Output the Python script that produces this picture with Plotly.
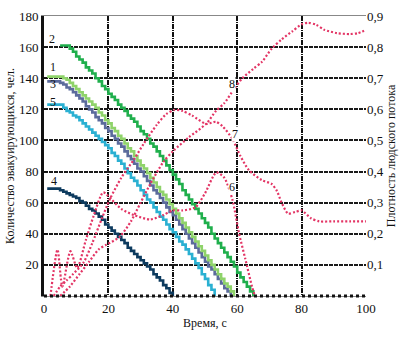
import plotly.graph_objects as go

# ---- evacuation counts (people remaining), one value per second ----
t_curve2 = list(range(5, 66))
n_curve2 = [161, 161, 161, 159, 157, 154, 152, 150, 147, 145, 143, 140, 138, 135, 133, 130,
            128, 126, 123, 121, 119, 116, 114, 112, 109, 106, 104, 101, 98, 96, 93, 90, 87,
            84, 81, 78, 75, 72, 68, 65, 62, 59, 56, 53, 50, 47, 44, 40, 37, 34, 31, 28, 25,
            22, 19, 15, 12, 9, 6, 3, 0]

t_curve1 = list(range(1, 60))
n_curve1 = [141, 141, 141, 141, 141, 140, 139, 137, 135, 133, 131, 129, 127, 125, 123, 121,
            118, 116, 113, 111, 108, 106, 103, 101, 98, 95, 93, 90, 87, 84, 82, 79, 76, 73,
            70, 67, 65, 62, 59, 56, 53, 50, 47, 44, 41, 38, 35, 32, 29, 26, 23, 20, 17, 14,
            11, 8, 6, 3, 0]

t_curve3 = list(range(1, 59))
n_curve3 = [138, 138, 138, 138, 137, 136, 134, 133, 131, 129, 127, 125, 122, 120, 118, 115,
            113, 111, 108, 106, 103, 101, 98, 96, 93, 90, 88, 85, 82, 80, 77, 74, 71, 68, 66,
            63, 60, 57, 54, 52, 49, 46, 43, 40, 37, 34, 31, 28, 25, 22, 19, 17, 14, 11, 8, 5,
            3, 0]

t_curve5 = list(range(1, 54))
n_curve5 = [123, 123, 123, 123, 123, 121, 119, 118, 116, 115, 113, 111, 109, 107, 105, 103,
            101, 99, 97, 95, 92, 90, 87, 85, 82, 79, 76, 74, 71, 68, 65, 62, 60, 57, 54, 51,
            49, 46, 43, 41, 38, 35, 33, 30, 27, 24, 21, 18, 14, 11, 7, 4, 0]

t_curve4 = list(range(1, 41))
n_curve4 = [69, 69, 69, 69, 68, 67, 66, 65, 64, 63, 61, 60, 58, 56, 55, 53, 51, 49, 46, 44,
            42, 40, 38, 36, 34, 31, 29, 27, 25, 23, 21, 19, 17, 14, 12, 10, 7, 5, 2, 0]

# ---- flow density (right axis) ----
t_curve6 = [2, 4.2, 5.7, 8.2, 10.3, 13, 15.5, 18.4, 21, 24, 28, 33, 37, 40, 43, 47, 50,
            53.5, 56, 58.5, 60.6, 62.5, 64.6, 65.5]
d_curve6 = [0, 0.149, 0.03, 0.144, 0.09, 0.18, 0.26, 0.333, 0.31, 0.28, 0.26, 0.246, 0.26,
            0.275, 0.275, 0.285, 0.33, 0.397, 0.38, 0.31, 0.2, 0.12, 0.03, 0]

t_curve7 = [3, 5, 7, 9, 12.3, 15, 18, 20.4, 24, 28, 31, 35, 38, 40.5, 43, 46, 50.4, 53.4,
            55.5, 58.5, 61, 63.6, 67.7, 70.7, 72.3, 73.8, 75.8, 78, 80, 82.9, 85.5, 90, 95, 100]
d_curve7 = [0, 0.03, 0.05, 0.07, 0.108, 0.17, 0.25, 0.31, 0.38, 0.44, 0.49, 0.55, 0.585,
            0.598, 0.595, 0.58, 0.553, 0.56, 0.545, 0.505, 0.45, 0.405, 0.372, 0.36, 0.338,
            0.30, 0.265, 0.27, 0.275, 0.25, 0.24, 0.24, 0.24, 0.24]

t_curve8 = [5, 8, 11, 14, 17, 19.4, 23.5, 27, 30, 33, 37, 40.2, 45, 50.5, 53.4, 56, 59, 61.6,
            65, 67.7, 70.7, 73.8, 77, 80, 82, 84.5, 87, 91, 95, 97.5, 100]
d_curve8 = [0, 0.03, 0.07, 0.11, 0.15, 0.165, 0.19, 0.24, 0.30, 0.36, 0.43, 0.467, 0.51,
            0.555, 0.595, 0.62, 0.665, 0.70, 0.73, 0.753, 0.795, 0.825, 0.85, 0.873, 0.878,
            0.872, 0.856, 0.845, 0.842, 0.845, 0.855]

x_ticks = [0, 20, 40, 60, 80, 100]
left_ticks = [20, 40, 60, 80, 100, 120, 140, 160, 180]
right_ticks = [0.1, 0.2, 0.3, 0.4, 0.5, 0.6, 0.7, 0.8, 0.9]
right_labels = ["0,1", "0,2", "0,3", "0,4", "0,5", "0,6", "0,7", "0,8", "0,9"]

SERIF = "Liberation Serif"
RED = "#e33565"

fig = go.Figure()

step_series = [
    (t_curve4, n_curve4, "#0c3a5e"),
    (t_curve5, n_curve5, "#2ab0d2"),
    (t_curve3, n_curve3, "#5b6b9c"),
    (t_curve1, n_curve1, "#8fd36a"),
    (t_curve2, n_curve2, "#1faf4c"),
]
for tx, ny, col in step_series:
    fig.add_trace(go.Scatter(x=tx, y=ny, mode="lines", line=dict(color=col, width=2.6, shape="hv"),
                             showlegend=False, hoverinfo="skip"))

for tx, dy in [(t_curve6, d_curve6), (t_curve7, d_curve7), (t_curve8, d_curve8)]:
    fig.add_trace(go.Scatter(x=tx, y=dy, yaxis="y2", mode="lines",
                             line=dict(color=RED, width=2.2, dash="2px,2px", shape="spline",
                                       smoothing=0.7),
                             showlegend=False, hoverinfo="skip"))

# curve numbers
labels = [
    ("2", 2.6, 165, "y"), ("1", 2.8, 147, "y"), ("3", 2.8, 136, "y"), ("5", 2.8, 125, "y"),
    ("4", 3.1, 74, "y"), ("8", 58.5, 0.68, "y2"), ("7", 59.2, 0.52, "y2"), ("6", 58.5, 0.35, "y2"),
]
for txt, lx, ly, yr in labels:
    fig.add_annotation(x=lx, y=ly, xref="x", yref=yr, text=txt, showarrow=False,
                       font=dict(family=SERIF, size=12, color="#111"),
                       bgcolor="white" if yr == "y2" else "rgba(0,0,0,0)", borderpad=0)

# dotted baseline along the time axis
fig.add_shape(type="line", xref="paper", yref="paper", x0=0, x1=1, y0=0, y1=0,
              line=dict(color="#111", width=3, dash="dot"), layer="above")

fig.update_layout(
    width=404, height=337,
    margin=dict(l=38, r=38, t=9, b=35),
    paper_bgcolor="white", plot_bgcolor="white",
    font=dict(family=SERIF, size=13, color="#111"),
    xaxis=dict(range=[0, 100], tickvals=x_ticks, showgrid=True, gridcolor="#111", gridwidth=1.6,
               griddash="5px,1px,1px,1px", zeroline=False, showline=True, linecolor="#888",
               linewidth=1, mirror=True, ticks="", tickfont=dict(family=SERIF, size=13),
               title=dict(text="Время, с", font=dict(family=SERIF, size=12), standoff=4)),
    yaxis=dict(range=[0, 180], tickvals=left_ticks, showgrid=True, gridcolor="#1a1a1a",
               gridwidth=1.5, griddash="4px,1px", zeroline=False, showline=True, linecolor="#111",
               linewidth=3, ticks="inside", ticklen=4, tickcolor="#111",
               tickfont=dict(family=SERIF, size=13),
               title=dict(text="Количество эвакуирующихся, чел.", font=dict(family=SERIF, size=12),
                          standoff=2)),
    yaxis2=dict(range=[0, 0.9], overlaying="y", side="right", tickvals=right_ticks,
                ticktext=right_labels, showgrid=False, zeroline=False, showline=False,
                ticks="", tickfont=dict(family=SERIF, size=13),
                title=dict(text="Плотность людского потока", font=dict(family=SERIF, size=12),
                           standoff=2)),
)

fig.write_html("out.html")
